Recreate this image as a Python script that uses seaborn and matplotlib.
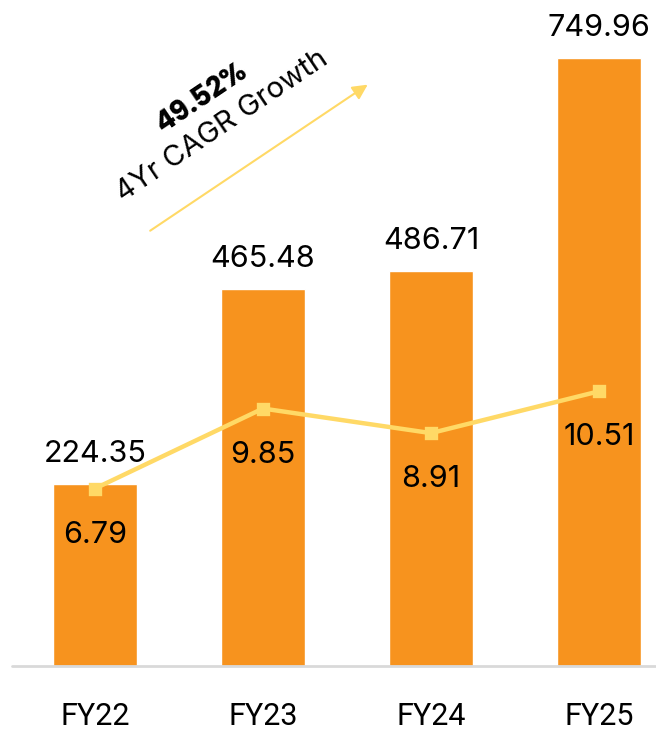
import matplotlib
matplotlib.use("Agg")
import matplotlib.pyplot as plt
import seaborn as sns
import pandas as pd

years = ["FY22", "FY23", "FY24", "FY25"]
revenue = [224.35, 465.48, 486.71, 749.96]
margin = [6.79, 9.85, 8.91, 10.51]
cagr_label = "49.52%"
cagr_text = "4Yr CAGR Growth"

df = pd.DataFrame({"year": years, "revenue": revenue, "margin": margin})

sns.set_style("white")
plt.rcParams["font.family"] = ["Inter", "DejaVu Sans"]

BAR = "#F7931E"
LINE = "#FFD966"
XL = (-0.565, 3.339)

fig = plt.figure(figsize=(6.56, 7.36), dpi=100)
ax = fig.add_axes([0, 70 / 736, 1, 666 / 736])

sns.barplot(data=df, x="year", y="revenue", color=BAR, width=0.5,
            saturation=1, ax=ax, zorder=2)
ax.set_ylim(0, 821.5)

ax2 = ax.twinx()
sns.pointplot(data=df, x="year", y="margin", color=LINE, markers="s",
              markersize=7.5, linewidth=3.2, ax=ax2, zorder=3)
ax2.set_ylim(0, 25.48)
ax.set_xlim(*XL)
ax2.set_xlim(*XL)

for a in (ax, ax2):
    a.set_xlabel("")
    a.set_ylabel("")
    a.set_yticks([])
    for s in a.spines.values():
        s.set_visible(False)

ax.tick_params(axis="x", length=0, pad=26, labelsize=22, labelcolor="#000000")
for t in ax.get_xticklabels():
    t.set_fontfamily(["Roboto", "DejaVu Sans"])

# baseline
ax.plot([-0.494, XL[1]], [0, 0], color="#D9D9D9", lw=2, clip_on=False, zorder=4)

for i, v in enumerate(revenue):
    ax.annotate(f"{v:.2f}", (i, v), xytext=(0, 16), textcoords="offset pixels",
                ha="center", va="bottom", fontsize=22, color="#000000")
for i, v in enumerate(margin):
    ax2.annotate(f"{v:.2f}", (i, v), xytext=(0, -46), textcoords="offset pixels",
                 ha="center", va="center", fontsize=22, color="#000000")

ax.annotate("", xy=(1.637, 719), xytext=(0.315, 535),
            arrowprops=dict(arrowstyle="-|>,head_length=0.9,head_width=0.45",
                            color=LINE, lw=1.5), annotation_clip=False)

fig.text(202 / 656, 1 - 98 / 736, cagr_label, rotation=34, ha="center", va="center",
         fontsize=20.5, fontweight="bold", rotation_mode="anchor", color="#000000",
         family=["Poppins", "Inter", "DejaVu Sans"])
fig.text(222 / 656, 1 - 126 / 736, cagr_text, rotation=34, ha="center", va="center",
         fontsize=21, rotation_mode="anchor", color="#000000")

fig.savefig("out.png", dpi=100)
